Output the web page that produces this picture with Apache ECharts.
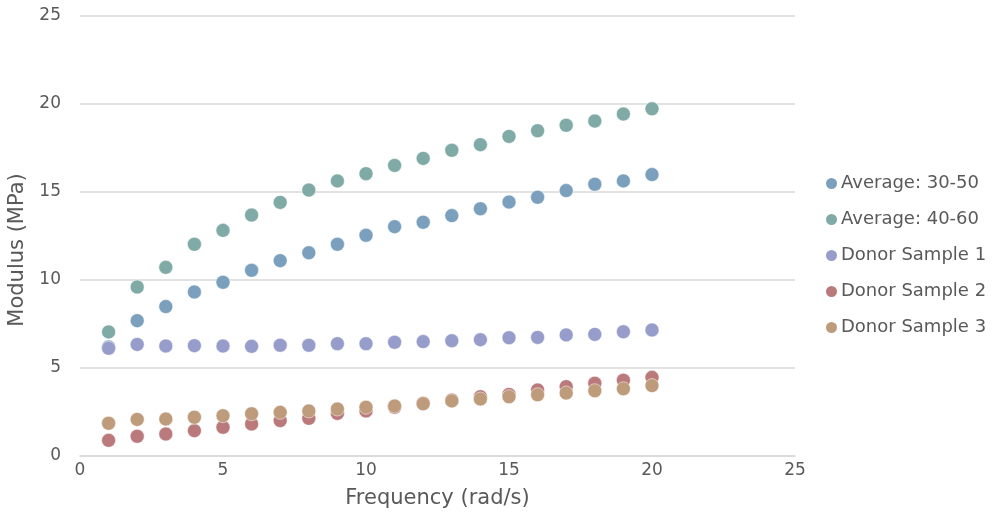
<!DOCTYPE html>
<html>
<head>
<meta charset="utf-8">
<script src="https://cdn.jsdelivr.net/npm/echarts@6/dist/echarts.min.js"></script>
<style>html,body{margin:0;padding:0;background:#fff}#c{width:997px;height:513px}</style>
</head>
<body>
<div id="c"></div>
<script>
const frequency = [1,2,3,4,5,6,7,8,9,10,11,12,13,14,15,16,17,18,19,20];
const avg3050 = [6.2,7.69,8.49,9.32,9.87,10.55,11.1,11.55,12.03,12.54,13.03,13.28,13.66,14.05,14.43,14.7,15.08,15.44,15.63,15.99];
const avg4060 = [7.05,9.6,10.72,12.03,12.82,13.69,14.41,15.11,15.63,16.04,16.51,16.91,17.37,17.69,18.16,18.48,18.79,19.03,19.43,19.73];
const donor1 = [6.12,6.34,6.25,6.27,6.25,6.23,6.29,6.29,6.38,6.38,6.46,6.5,6.55,6.61,6.72,6.74,6.88,6.91,7.06,7.16];
const donor2 = [0.89,1.12,1.25,1.44,1.63,1.82,2.01,2.14,2.42,2.56,2.77,3.0,3.18,3.37,3.5,3.75,3.94,4.13,4.3,4.47];
const donor3 = [1.86,2.08,2.1,2.2,2.29,2.4,2.48,2.56,2.67,2.77,2.84,2.97,3.13,3.24,3.37,3.48,3.58,3.71,3.82,4.0];
const seriesNames = ['Average: 30-50','Average: 40-60','Donor Sample 1','Donor Sample 2','Donor Sample 3'];
const colors = ['#7BA0BD','#7FAAA6','#979DCA','#BA7A7C','#BE9B7B'];
const allValues = [avg3050, avg4060, donor1, donor2, donor3];

const font = 'DejaVu Sans';
const txt = '#595959';
const chart = echarts.init(document.getElementById('c'));
chart.setOption({
  animation: false,
  color: colors,
  grid: {left: 80, right: 202, top: 16, bottom: 57, containLabel: false, outerBoundsMode: 'none'},
  legend: {
    orient: 'vertical', left: 819, top: 169,
    itemWidth: 13, itemHeight: 13, itemGap: 17,
    icon: 'circle',
    textStyle: {color: txt, fontFamily: font, fontSize: 18, lineHeight: 19, padding: [0,0,0,-2]},
    data: seriesNames
  },
  xAxis: {
    type: 'value', min: 0, max: 25, interval: 5,
    name: 'Frequency (rad/s)', nameLocation: 'middle', nameGap: 32,
    nameTextStyle: {color: txt, fontFamily: font, fontSize: 21},
    axisLine: {show: true, lineStyle: {color: '#D9D9D9', width: 1.5}},
    axisTick: {show: false},
    axisLabel: {color: txt, fontFamily: font, fontSize: 17, margin: 6},
    splitLine: {show: false}
  },
  yAxis: {
    type: 'value', min: 0, max: 25, interval: 5,
    name: 'Modulus (MPa)', nameLocation: 'middle', nameGap: 47,
    nameTextStyle: {color: txt, fontFamily: font, fontSize: 21, padding: [0, 28, 0, 0]},
    axisLine: {show: false},
    axisTick: {show: false},
    axisLabel: {color: txt, fontFamily: font, fontSize: 17, margin: 19},
    splitLine: {show: true, lineStyle: {color: '#D9D9D9', width: 1.5}}
  },
  series: seriesNames.map((n, i) => ({
    name: n, type: 'scatter', symbol: 'circle', symbolSize: 14,
    itemStyle: {color: colors[i], opacity: 1, borderColor: '#ffffff', borderWidth: 0.5},
    data: frequency.map((f, j) => [f, allValues[i][j]])
  }))
});
</script>
</body>
</html>
